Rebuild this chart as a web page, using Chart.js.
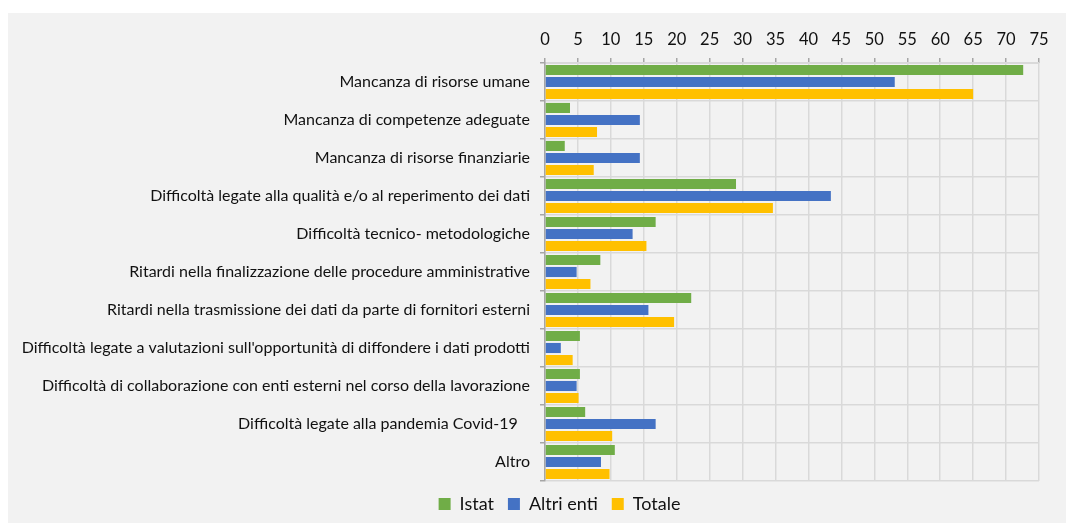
<!DOCTYPE html>
<html>
<head>
<meta charset="utf-8">
<script src="https://cdn.jsdelivr.net/npm/chart.js@4"></script>
<style>
  body { margin: 0; background: #fff; }
  #wrap { position: absolute; left: 8px; top: 13px; width: 1058px; height: 510px; background: #f2f2f2; }
</style>
</head>
<body>
<div id="wrap"><canvas id="myChart"></canvas></div>
<script>
const categories = [
  "Mancanza di risorse umane",
  "Mancanza di competenze adeguate",
  "Mancanza di risorse finanziarie",
  "Difficoltà legate alla qualità e/o al reperimento dei dati",
  "Difficoltà tecnico- metodologiche",
  "Ritardi nella finalizzazione delle procedure amministrative",
  "Ritardi nella trasmissione dei dati da parte di fornitori esterni",
  "Difficoltà legate a valutazioni sull'opportunità di diffondere i dati prodotti",
  "Difficoltà di collaborazione con enti esterni nel corso della lavorazione",
  "Difficoltà legate alla pandemia Covid-19   ",
  "Altro"
];
const istat = [72.6, 3.8, 3.0, 29.0, 16.8, 8.4, 22.2, 5.3, 5.3, 6.1, 10.6];
const altriEnti = [53.1, 14.4, 14.4, 43.4, 13.3, 4.8, 15.7, 2.4, 4.8, 16.8, 8.5];
const totale = [65.0, 7.9, 7.4, 34.6, 15.4, 6.9, 19.6, 4.2, 5.1, 10.2, 9.8];

const font = "Lato, 'Liberation Sans', sans-serif";

// shift the legend a bit to the right, like the original
const legendShift = {
  id: "legendShift",
  afterLayout(chart) {
    chart.legend.left += 36;
    chart.legend.right += 36;
  }
};

const ctx = document.getElementById("myChart").getContext("2d");
new Chart(ctx, {
  type: "bar",
  data: {
    labels: categories,
    datasets: [
      { label: "Istat", data: istat, backgroundColor: "#70ad47" },
      { label: "Altri enti", data: altriEnti, backgroundColor: "#4472c4" },
      { label: "Totale", data: totale, backgroundColor: "#ffc000" }
    ]
  },
  plugins: [legendShift],
  options: {
    indexAxis: "y",
    responsive: true,
    maintainAspectRatio: false,
    animation: false,
    categoryPercentage: 0.95,
    barPercentage: 0.84,
    layout: { padding: { left: 0, right: 27, top: 0, bottom: 0 } },
    scales: {
      x: {
        position: "top",
        min: 0,
        max: 75,
        ticks: { stepSize: 5, color: "#111", font: { family: font, size: 16.5 }, padding: 8 },
        grid: { color: "#d9d9d9", lineWidth: 1.5, tickLength: 5, tickColor: "#a6a6a6" },
        border: { color: "#d9d9d9" },
        afterFit(scale) { scale.height = 50; }
      },
      y: {
        ticks: { color: "#111", font: { family: font, size: 16 }, padding: 10 },
        grid: { offset: true, color: "#d9d9d9", lineWidth: 1.5, tickLength: 5, tickColor: "#a6a6a6" },
        border: { color: "#a6a6a6", width: 1.5 },
        afterFit(scale) { scale.width = 537; }
      }
    },
    plugins: {
      legend: {
        position: "bottom",
        labels: {
          color: "#111",
          font: { family: font, size: 18 },
          boxWidth: 12,
          boxHeight: 12,
          padding: 14
        }
      },
      tooltip: { enabled: false }
    }
  }
});
</script>
</body>
</html>
